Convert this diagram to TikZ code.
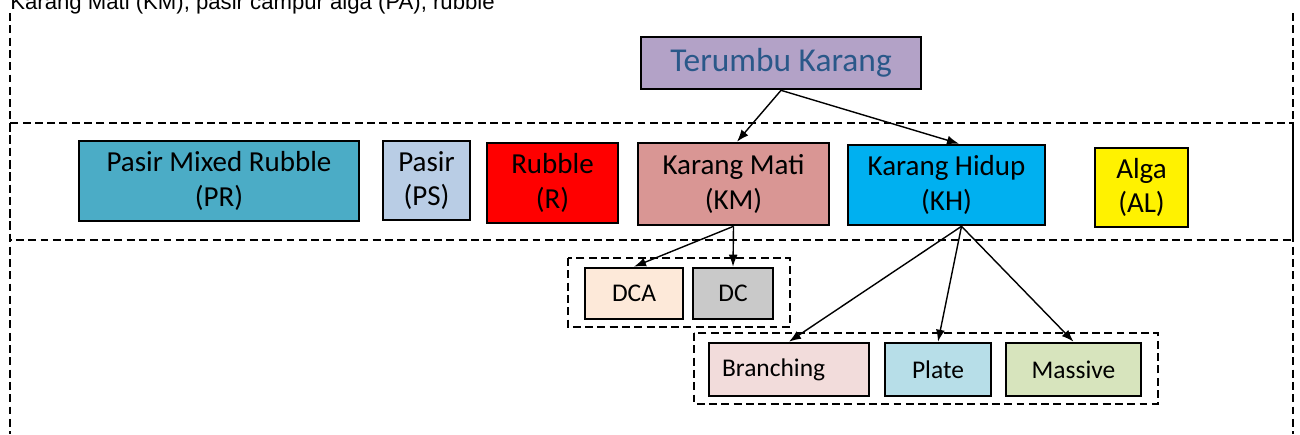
\documentclass[tikz,border=0pt]{standalone}
\usepackage{fontspec}
\setmainfont{Carlito}
\newfontfamily\arialfont{Liberation Sans}
\usetikzlibrary{arrows.meta}

\definecolor{tkfill}{HTML}{B3A2C7}
\definecolor{tktext}{HTML}{2A5889}
\definecolor{prfill}{HTML}{4BACC6}
\definecolor{psfill}{HTML}{B9CDE5}
\definecolor{kmfill}{HTML}{D99694}
\definecolor{khfill}{HTML}{00B0F0}
\definecolor{dcafill}{HTML}{FDE9D9}
\definecolor{dcfill}{HTML}{C9C9C9}
\definecolor{brfill}{HTML}{F2DCDB}
\definecolor{plfill}{HTML}{B7DEE8}
\definecolor{mafill}{HTML}{D7E4BD}

\tikzset{
	box/.style={draw=black, line width=1.5pt, inner sep=0pt, align=center, font=\fontsize{16.5}{19.5}\selectfont},
	smallbox/.style={box, font=\fontsize{14.5}{17}\selectfont},
	grp/.style={draw=black, line width=1.3pt, dash pattern=on 4.5pt off 2.5pt},
	arr/.style={-{Latex[length=2.4mm,width=1.8mm]}, line width=0.8pt}
}

\begin{document}
\begin{tikzpicture}[x=0.02cm, y=-0.02cm]
				\useasboundingbox (0,0) rectangle (1300,434);
				
				\node[anchor=base west, inner sep=0pt, font=\arialfont\fontsize{12.6}{15}\selectfont] (cap) at (10,9) {Karang Mati (KM), pasir campur alga (PA), rubble};
				
				\draw[grp] (10,13) -- (10,434);
				\draw[grp] (1293,13) -- (1293,434);
				\draw[grp] (10,123) rectangle (1293,240);
				
				\node[box, fill=tkfill, text=tktext, font=\fontsize{19}{22}\selectfont, minimum width=5.6cm, minimum height=1.04cm] (tk) at (781,63) {Terumbu Karang};
				
				\node[box, fill=prfill, minimum width=5.6cm, minimum height=1.6cm] (pr) at (219,181) {Pasir Mixed Rubble\\(PR)};
				\node[box, fill=psfill, minimum width=1.74cm, minimum height=1.58cm] (ps) at (426.5,180.5) {Pasir\\(PS)};
				\node[box, fill=red, minimum width=2.62cm, minimum height=1.6cm] (rb) at (552.5,183) {Rubble\\(R)};
				\node[box, fill=kmfill, minimum width=3.82cm, minimum height=1.64cm] (km) at (733.5,184) {Karang Mati\\(KM)};
				\node[box, fill=khfill, minimum width=3.94cm, minimum height=1.6cm] (kh) at (946.5,185) {Karang Hidup\\(KH)};
				\node[box, fill=yellow, minimum width=1.86cm, minimum height=1.58cm] (al) at (1141.5,187.5) {Alga\\(AL)};
				
				\draw[grp] (568,258) rectangle (790,327);
				\node[smallbox, fill=dcafill, minimum width=1.96cm, minimum height=1.02cm] (dca) at (634,293.5) {DCA};
				\node[smallbox, fill=dcfill, minimum width=1.6cm, minimum height=1.02cm] (dc) at (733,293.5) {DC};
				
				\draw[grp] (694,333) rectangle (1158,404);
				\node[smallbox, fill=brfill, text width=2.68cm, inner xsep=0.26cm, align=left, minimum height=1.06cm] (br) at (789,369.5) {Branching};
				\node[smallbox, fill=plfill, minimum width=2.12cm, minimum height=1.06cm] (pl) at (938,369.5) {Plate};
				\node[smallbox, fill=mafill, minimum width=2.7cm, minimum height=1.06cm] (ma) at (1073.5,369.5) {Massive};
				
				\draw[arr] (tk.south) -- ([xshift=0.07cm]km.north);
				\draw[arr] (tk.south) -- ([xshift=0.25cm]kh.north);
				
				\draw[arr] (km.south) -- (dca.north);
				\draw[arr] (km.south) -- (dc.north);
				
				\coordinate (khs) at ([xshift=0.3cm]kh.south);
				\draw[arr] (khs) -- (br.north);
				\draw[arr] (khs) -- (pl.north);
				\draw[arr] (khs) -- (ma.north);
\end{tikzpicture}
\end{document}
